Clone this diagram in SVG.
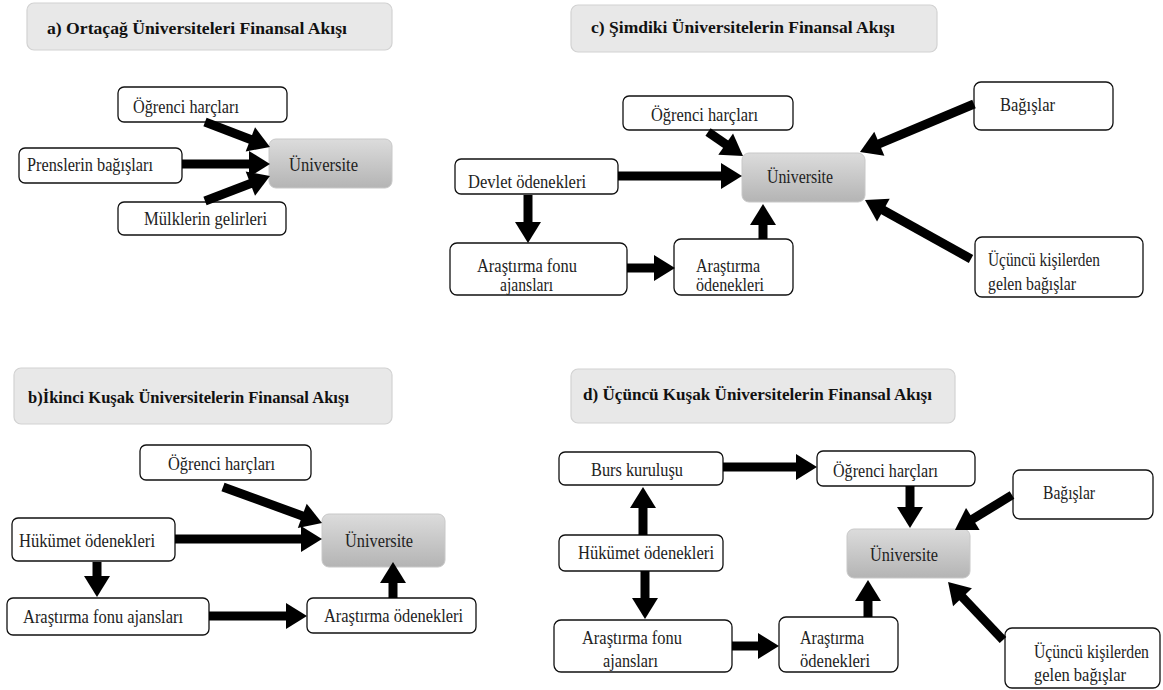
<svg xmlns="http://www.w3.org/2000/svg" width="1163" height="690" viewBox="0 0 1163 690">
<defs>
<linearGradient id="ug" x1="0" y1="0" x2="0" y2="1">
<stop offset="0" stop-color="#dcdcdc"/>
<stop offset="1" stop-color="#b4b4b4"/>
</linearGradient>
<marker id="ah" markerUnits="userSpaceOnUse" markerWidth="21" markerHeight="26" refX="1" refY="13" orient="auto" overflow="visible">
<path d="M0,0 L21,13 L0,26 z" fill="#000"/>
</marker>
<style>
.title rect{fill:#e8e8e8;stroke:#d2d2d2;stroke-width:1.2}
.title text{font-weight:bold;font-size:17.5px;fill:#111}
.node rect{fill:#fff;stroke:#111;stroke-width:1.3}
.uni rect{fill:url(#ug);stroke:#c8c8c8;stroke-width:1}
text{font-size:18.5px;fill:#222}
.conn line{stroke:#000;stroke-width:9;marker-end:url(#ah)}
</style>
</defs>
<rect width="1163" height="690" fill="#fff"/>
<g font-family="Liberation Serif">

<!-- Panel a -->
<g id="title-a" class="title"><rect x="27" y="3" width="365" height="47" rx="7"/><text x="47" y="34" textLength="300" lengthAdjust="spacingAndGlyphs">a) Ortaçağ Üniversiteleri Finansal Akışı</text></g>
<g id="a-ogrenci" class="node"><rect x="118" y="87" width="169" height="35" rx="6"/><text x="133" y="113" textLength="106" lengthAdjust="spacingAndGlyphs">Öğrenci harçları</text></g>
<g id="a-prens" class="node"><rect x="19" y="148" width="163" height="35" rx="6"/><text x="27" y="171" textLength="126" lengthAdjust="spacingAndGlyphs">Prenslerin bağışları</text></g>
<g id="a-mulk" class="node"><rect x="118" y="202" width="168" height="33" rx="6"/><text x="144" y="225" textLength="123" lengthAdjust="spacingAndGlyphs">Mülklerin gelirleri</text></g>
<g id="a-uni" class="uni"><rect x="269" y="139" width="123" height="49" rx="7"/><text x="289" y="171" textLength="69" lengthAdjust="spacingAndGlyphs">Üniversite</text></g>

<!-- Panel c -->
<g id="title-c" class="title"><rect x="571" y="5" width="366" height="47" rx="7"/><text x="591" y="33" textLength="304" lengthAdjust="spacingAndGlyphs">c) Şimdiki Üniversitelerin Finansal Akışı</text></g>
<g id="c-ogrenci" class="node"><rect x="623" y="96" width="170" height="34" rx="6"/><text x="651" y="121" textLength="107" lengthAdjust="spacingAndGlyphs">Öğrenci harçları</text></g>
<g id="c-devlet" class="node"><rect x="455" y="159" width="163" height="35" rx="6"/><text x="468" y="188" textLength="118" lengthAdjust="spacingAndGlyphs">Devlet ödenekleri</text></g>
<g id="c-uni" class="uni"><rect x="742" y="153" width="123" height="49" rx="7"/><text x="767" y="183" textLength="66" lengthAdjust="spacingAndGlyphs">Üniversite</text></g>
<g id="c-fonu" class="node"><rect x="450" y="243" width="177" height="52" rx="7"/><text x="477" y="272" textLength="100" lengthAdjust="spacingAndGlyphs">Araştırma fonu</text><text x="500" y="291" textLength="53" lengthAdjust="spacingAndGlyphs">ajansları</text></g>
<g id="c-odenek" class="node"><rect x="674" y="239" width="119" height="56" rx="7"/><text x="696" y="272" textLength="64" lengthAdjust="spacingAndGlyphs">Araştırma</text><text x="696" y="291" textLength="68" lengthAdjust="spacingAndGlyphs">ödenekleri</text></g>
<g id="c-bagis" class="node"><rect x="974" y="82" width="139" height="48" rx="7"/><text x="1000" y="111" textLength="55" lengthAdjust="spacingAndGlyphs">Bağışlar</text></g>
<g id="c-ucuncu" class="node"><rect x="975" y="237" width="168" height="60" rx="7"/><text x="988" y="266" textLength="112" lengthAdjust="spacingAndGlyphs">Üçüncü kişilerden</text><text x="988" y="290" textLength="88" lengthAdjust="spacingAndGlyphs">gelen bağışlar</text></g>

<!-- Panel b -->
<g id="title-b" class="title"><rect x="14" y="368" width="378" height="56" rx="7"/><text x="28" y="403" textLength="321" lengthAdjust="spacingAndGlyphs">b)İkinci Kuşak Üniversitelerin Finansal Akışı</text></g>
<g id="b-ogrenci" class="node"><rect x="140" y="445" width="171" height="35" rx="6"/><text x="168" y="470" textLength="107" lengthAdjust="spacingAndGlyphs">Öğrenci harçları</text></g>
<g id="b-hukumet" class="node"><rect x="12" y="518" width="163" height="43" rx="6"/><text x="19" y="547" textLength="136" lengthAdjust="spacingAndGlyphs">Hükümet ödenekleri</text></g>
<g id="b-uni" class="uni"><rect x="322" y="514" width="123" height="53" rx="7"/><text x="345" y="547" textLength="68" lengthAdjust="spacingAndGlyphs">Üniversite</text></g>
<g id="b-fonu" class="node"><rect x="7" y="598" width="202" height="37" rx="6"/><text x="23" y="623" textLength="160" lengthAdjust="spacingAndGlyphs">Araştırma fonu ajansları</text></g>
<g id="b-odenek" class="node"><rect x="307" y="598" width="169" height="35" rx="6"/><text x="324" y="622" textLength="139" lengthAdjust="spacingAndGlyphs">Araştırma ödenekleri</text></g>

<!-- Panel d -->
<g id="title-d" class="title"><rect x="571" y="369" width="384" height="54" rx="7"/><text x="583" y="400" textLength="349" lengthAdjust="spacingAndGlyphs">d) Üçüncü Kuşak Üniversitelerin Finansal Akışı</text></g>
<g id="d-burs" class="node"><rect x="559" y="452" width="164" height="33" rx="6"/><text x="591" y="476" textLength="92" lengthAdjust="spacingAndGlyphs">Burs kuruluşu</text></g>
<g id="d-ogrenci" class="node"><rect x="817" y="451" width="158" height="35" rx="6"/><text x="833" y="477" textLength="105" lengthAdjust="spacingAndGlyphs">Öğrenci harçları</text></g>
<g id="d-hukumet" class="node"><rect x="559" y="535" width="164" height="36" rx="6"/><text x="578" y="559" textLength="136" lengthAdjust="spacingAndGlyphs">Hükümet ödenekleri</text></g>
<g id="d-uni" class="uni"><rect x="847" y="529" width="123" height="49" rx="7"/><text x="870" y="561" textLength="68" lengthAdjust="spacingAndGlyphs">Üniversite</text></g>
<g id="d-fonu" class="node"><rect x="554" y="620" width="178" height="52" rx="7"/><text x="582" y="644" textLength="100" lengthAdjust="spacingAndGlyphs">Araştırma fonu</text><text x="603" y="667" textLength="55" lengthAdjust="spacingAndGlyphs">ajansları</text></g>
<g id="d-odenek" class="node"><rect x="779" y="617" width="119" height="55" rx="7"/><text x="800" y="644" textLength="64" lengthAdjust="spacingAndGlyphs">Araştırma</text><text x="800" y="667" textLength="70" lengthAdjust="spacingAndGlyphs">ödenekleri</text></g>
<g id="d-bagis" class="node"><rect x="1013" y="470" width="140" height="49" rx="7"/><text x="1043" y="499" textLength="52" lengthAdjust="spacingAndGlyphs">Bağışlar</text></g>
<g id="d-ucuncu" class="node"><rect x="1005" y="628" width="155" height="60" rx="7"/><text x="1034" y="658" font-size="17" textLength="115" lengthAdjust="spacingAndGlyphs">Üçüncü kişilerden</text><text x="1034" y="681" textLength="92" lengthAdjust="spacingAndGlyphs">gelen bağışlar</text></g>
</g>

<g id="connectors" class="conn">
<line x1="205" y1="122" x2="251.3" y2="139.8"/>
<line x1="182" y1="164" x2="250" y2="164"/>
<line x1="205" y1="201" x2="251.3" y2="183.2"/>

<line x1="708" y1="132" x2="726.5" y2="144.7"/>
<line x1="618" y1="176" x2="722" y2="176"/>
<line x1="528" y1="195" x2="528" y2="223"/>
<line x1="627" y1="268" x2="655" y2="268"/>
<line x1="763" y1="239" x2="763" y2="224"/>
<line x1="974" y1="104" x2="878.4" y2="144.2"/>
<line x1="971" y1="259" x2="882.5" y2="209.7"/>

<line x1="223" y1="487" x2="303.2" y2="516.2"/>
<line x1="175" y1="539" x2="302" y2="539"/>
<line x1="97" y1="562" x2="97" y2="577"/>
<line x1="209" y1="616" x2="287" y2="616"/>
<line x1="393" y1="598" x2="393" y2="582"/>

<line x1="723" y1="467" x2="797" y2="467"/>
<line x1="910" y1="486" x2="910" y2="508"/>
<line x1="643" y1="535" x2="643" y2="507"/>
<line x1="645" y1="571" x2="645" y2="599"/>
<line x1="732" y1="646" x2="759" y2="646"/>
<line x1="868" y1="617" x2="868" y2="600"/>
<line x1="1012" y1="495" x2="972.0" y2="519.5"/>
<line x1="1003" y1="640" x2="961.8" y2="596.5"/>
</g>
</svg>
